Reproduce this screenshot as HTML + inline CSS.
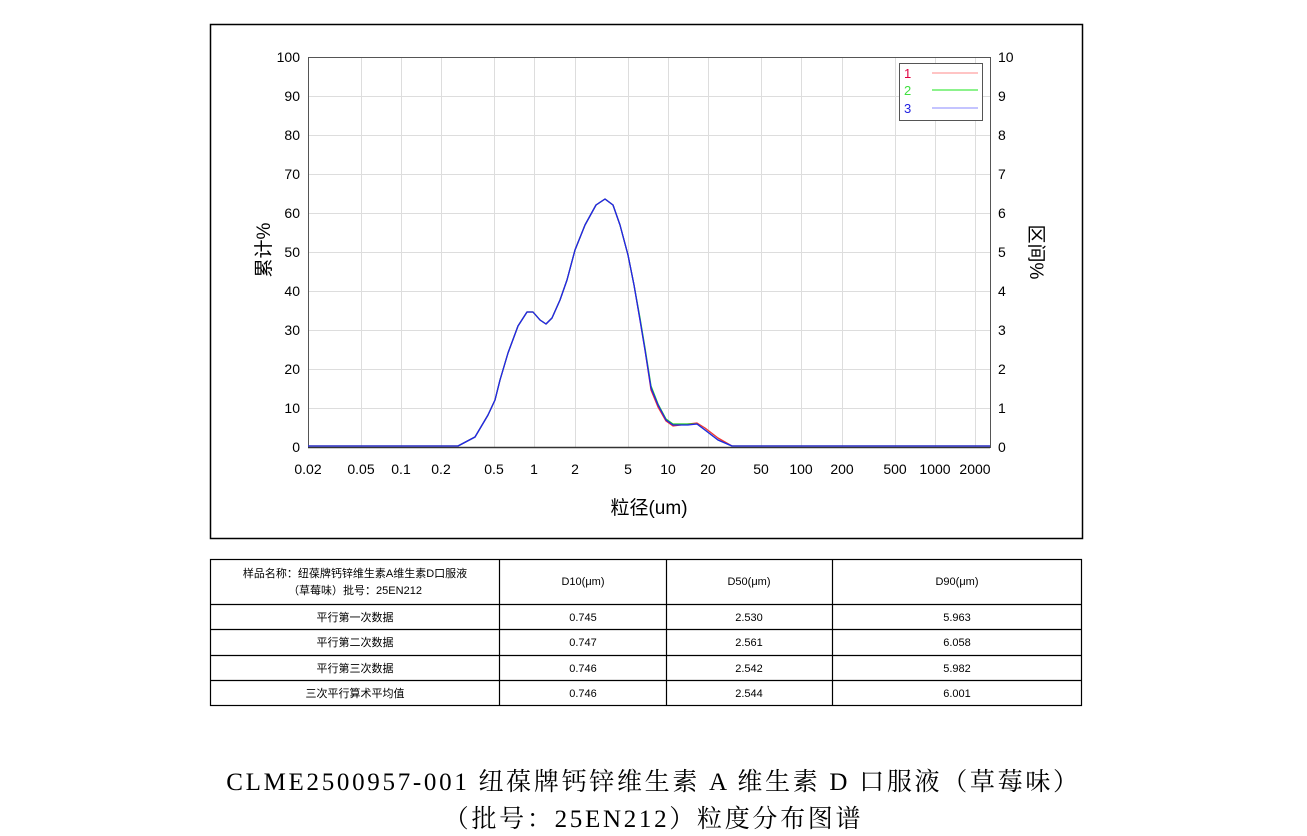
<!DOCTYPE html>
<html><head><meta charset="utf-8"><style>
body{margin:0;background:#fff;width:1307px;height:836px;overflow:hidden;font-family:"Liberation Sans","Noto Sans CJK SC",sans-serif;}
svg{position:absolute;left:0;top:0}
.t{position:absolute;font-family:"Liberation Serif","Noto Serif CJK SC",serif;font-size:25px;color:#000;width:1307px;text-align:center;letter-spacing:2.7px}
</style></head><body>
<svg width="1307" height="836" font-family="Liberation Sans, Noto Sans CJK SC, sans-serif">
<rect x="210.5" y="24.5" width="872" height="514" fill="none" stroke="#000" stroke-width="1.5"/>
<g stroke="#ddd" stroke-width="1">
<line x1="308" y1="57.5" x2="990" y2="57.5"/><line x1="308" y1="96.5" x2="990" y2="96.5"/><line x1="308" y1="135.5" x2="990" y2="135.5"/><line x1="308" y1="174.5" x2="990" y2="174.5"/><line x1="308" y1="213.5" x2="990" y2="213.5"/><line x1="308" y1="252.5" x2="990" y2="252.5"/><line x1="308" y1="291.5" x2="990" y2="291.5"/><line x1="308" y1="330.5" x2="990" y2="330.5"/><line x1="308" y1="369.5" x2="990" y2="369.5"/><line x1="308" y1="408.5" x2="990" y2="408.5"/>
<line x1="361.5" y1="57" x2="361.5" y2="447"/><line x1="401.5" y1="57" x2="401.5" y2="447"/><line x1="441.5" y1="57" x2="441.5" y2="447"/><line x1="494.5" y1="57" x2="494.5" y2="447"/><line x1="534.5" y1="57" x2="534.5" y2="447"/><line x1="575.5" y1="57" x2="575.5" y2="447"/><line x1="628.5" y1="57" x2="628.5" y2="447"/><line x1="668.5" y1="57" x2="668.5" y2="447"/><line x1="708.5" y1="57" x2="708.5" y2="447"/><line x1="761.5" y1="57" x2="761.5" y2="447"/><line x1="801.5" y1="57" x2="801.5" y2="447"/><line x1="842.5" y1="57" x2="842.5" y2="447"/><line x1="895.5" y1="57" x2="895.5" y2="447"/><line x1="935.5" y1="57" x2="935.5" y2="447"/><line x1="975.5" y1="57" x2="975.5" y2="447"/>
</g>
<rect x="308.5" y="57.5" width="682" height="390" fill="none" stroke="#555" stroke-width="1"/>
<line x1="308" y1="447.5" x2="990" y2="447.5" stroke="#333" stroke-width="1.5"/>
<g font-size="14" fill="#000" text-anchor="end">
<text x="300" y="62">100</text><text x="300" y="101">90</text><text x="300" y="140">80</text><text x="300" y="179">70</text><text x="300" y="218">60</text><text x="300" y="257">50</text><text x="300" y="296">40</text><text x="300" y="335">30</text><text x="300" y="374">20</text><text x="300" y="413">10</text><text x="300" y="452">0</text>
</g>
<g font-size="14" fill="#000">
<text x="998" y="62">10</text><text x="998" y="101">9</text><text x="998" y="140">8</text><text x="998" y="179">7</text><text x="998" y="218">6</text><text x="998" y="257">5</text><text x="998" y="296">4</text><text x="998" y="335">3</text><text x="998" y="374">2</text><text x="998" y="413">1</text><text x="998" y="452">0</text>
</g>
<g font-size="14" fill="#000" text-anchor="middle">
<text x="308" y="474">0.02</text><text x="361" y="474">0.05</text><text x="401" y="474">0.1</text><text x="441" y="474">0.2</text><text x="494" y="474">0.5</text><text x="534" y="474">1</text><text x="575" y="474">2</text><text x="628" y="474">5</text><text x="668" y="474">10</text><text x="708" y="474">20</text><text x="761" y="474">50</text><text x="801" y="474">100</text><text x="842" y="474">200</text><text x="895" y="474">500</text><text x="935" y="474">1000</text><text x="975" y="474">2000</text>
</g>
<text x="649" y="514" font-size="19" text-anchor="middle">粒径(um)</text>
<text transform="translate(270,250) rotate(-90)" font-size="19" text-anchor="middle">累计%</text>
<text transform="translate(1030,252) rotate(90)" font-size="19" text-anchor="middle">区间%</text>
<rect x="899.5" y="63.5" width="83" height="57" fill="#fff" stroke="#555"/>
<text x="904" y="78" font-size="13" fill="#e00040">1</text><line x1="932" y1="73" x2="978" y2="73" stroke="#f88"/>
<text x="904" y="95" font-size="13" fill="#40e040">2</text><line x1="932" y1="90" x2="978" y2="90" stroke="#6e6" stroke-width="1.5"/>
<text x="904" y="113" font-size="13" fill="#2020e0">3</text><line x1="932" y1="108" x2="978" y2="108" stroke="#88f"/>
<g fill="none" stroke-width="1.3" stroke-linejoin="round">
<polyline stroke="#e33" points="308,446 458,446 475,437 488,415 495,400 500,380 508,353 518,326 527,312 533,312 540,320 546,324 552,318 560,300 567,280 575,250 585,225 596,205 605,199 613,205 620,225 628,255 634,285 640,320 645,350 651,390 658,407 666,421 673,426 688,424 697,423 705,428 718,438 732,446 990,446"/>
<polyline stroke="#2c2" points="308,446 458,446 475,437 488,415 495,400 500,380 508,353 518,326 527,312 533,312 540,320 546,324 552,318 560,300 567,280 575,250 585,225 596,205 605,199 613,205 620,225 628,255 634,285 640,318 645,348 651,386 658,404 666,419 673,424 688,424 697,424 705,430 718,440 732,446 990,446"/>
<polyline stroke="#22e" points="308,446 458,446 475,437 488,415 495,400 500,380 508,353 518,326 527,312 533,312 540,320 546,324 552,318 560,300 567,280 575,250 585,225 596,205 605,199 613,205 620,225 628,255 634,285 640,320 645,350 651,388 658,405 666,420 673,425 688,425 697,424 705,430 718,440 732,446 990,446"/>
</g>
<g stroke="#000" stroke-width="1.2" fill="none">
<rect x="210.5" y="559.5" width="871" height="146"/>
<line x1="210" y1="604.5" x2="1082" y2="604.5"/><line x1="210" y1="629.5" x2="1082" y2="629.5"/><line x1="210" y1="655.5" x2="1082" y2="655.5"/><line x1="210" y1="680.5" x2="1082" y2="680.5"/>
<line x1="499.5" y1="559" x2="499.5" y2="706"/><line x1="666.5" y1="559" x2="666.5" y2="706"/><line x1="832.5" y1="559" x2="832.5" y2="706"/>
</g>
<g font-size="11" text-anchor="middle" fill="#000">
<text x="355" y="577">样品名称：纽葆牌钙锌维生素A维生素D口服液</text><text x="355" y="594">（草莓味）批号：25EN212</text>
<text x="583" y="585">D10(μm)</text><text x="749" y="585">D50(μm)</text><text x="957" y="585">D90(μm)</text>
<text x="355" y="621">平行第一次数据</text><text x="583" y="621">0.745</text><text x="749" y="621">2.530</text><text x="957" y="621">5.963</text>
<text x="355" y="646">平行第二次数据</text><text x="583" y="646">0.747</text><text x="749" y="646">2.561</text><text x="957" y="646">6.058</text>
<text x="355" y="672">平行第三次数据</text><text x="583" y="672">0.746</text><text x="749" y="672">2.542</text><text x="957" y="672">5.982</text>
<text x="355" y="697">三次平行算术平均值</text><text x="583" y="697">0.746</text><text x="749" y="697">2.544</text><text x="957" y="697">6.001</text>
</g>
</svg>
<div class="t" style="top:762px">CLME2500957-001 纽葆牌钙锌维生素 A 维生素 D 口服液（草莓味）</div>
<div class="t" style="top:799px">（批号：25EN212）粒度分布图谱</div>
</body></html>
